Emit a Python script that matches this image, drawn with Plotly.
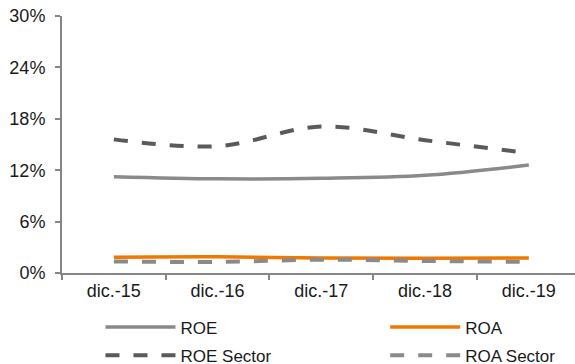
import plotly.graph_objects as go

categories = ["dic.-15", "dic.-16", "dic.-17", "dic.-18", "dic.-19"]
roe = [11.25, 11.0, 11.05, 11.4, 12.6]
roa = [1.85, 1.9, 1.75, 1.72, 1.75]
roe_sector = [15.6, 14.8, 17.1, 15.5, 14.0]
roa_sector = [1.35, 1.3, 1.55, 1.4, 1.3]
y_ticks = [0, 6, 12, 18, 24, 30]

FONT = "Liberation Sans, Arial, sans-serif"

fig = go.Figure()
fig.add_trace(go.Scatter(x=categories, y=roe, name="ROE", mode="lines", legend="legend", legendgroup="a",
                         line=dict(color="#8a8a8a", width=3.5, shape="spline")))
fig.add_trace(go.Scatter(x=categories, y=roa, name="ROA", mode="lines", legend="legend2", legendgroup="b",
                         line=dict(color="#f07800", width=3.5, shape="spline")))
fig.add_trace(go.Scatter(x=categories, y=roe_sector, name="ROE Sector", mode="lines", legend="legend", legendgroup="c",
                         line=dict(color="#5a5a5a", width=4, shape="spline", dash="14px,14px")))
fig.add_trace(go.Scatter(x=categories, y=roa_sector, name="ROA Sector", mode="lines", legend="legend2", legendgroup="d",
                         line=dict(color="#8a8a8a", width=4, shape="spline", dash="14px,14px")))

leg_common = dict(orientation="v", y=-0.142, xanchor="left", yanchor="top",
                  font=dict(size=17), itemwidth=70, tracegroupgap=3,
                  bgcolor="rgba(0,0,0,0)")
fig.update_layout(
    width=575, height=364,
    margin=dict(l=62, r=0, t=16, b=91, autoexpand=False),
    paper_bgcolor="white", plot_bgcolor="white",
    font=dict(family=FONT, size=18, color="#1a1a1a"),
    showlegend=True,
    legend=dict(x=0.075, **leg_common),
    legend2=dict(x=0.63, **leg_common),
)
fig.update_xaxes(type="category", range=[-0.5, 4.445], showgrid=False, automargin=False,
                 showline=True, linecolor="#868686", linewidth=2,
                 ticks="outside", tickson="boundaries", ticklen=5, tickcolor="#868686", tickwidth=2)
fig.update_yaxes(range=[0, 30], tickvals=y_ticks, ticktext=[f"{v}%" for v in y_ticks], automargin=False,
                 showgrid=False, zeroline=False, showline=True, linecolor="#868686", linewidth=2,
                 ticks="outside", ticklen=5, tickcolor="#868686", tickwidth=2, ticklabelstandoff=6)

fig.write_html("out.html")
